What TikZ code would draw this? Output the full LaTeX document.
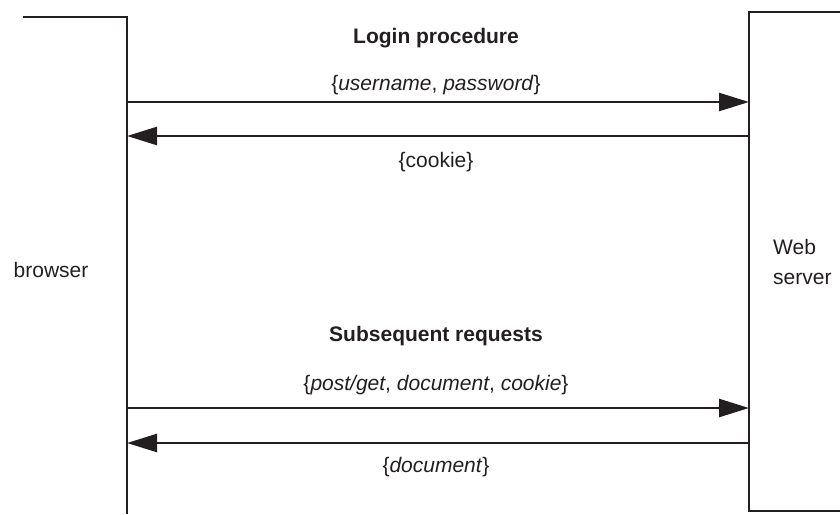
\documentclass[tikz,border=0pt]{standalone}
\usepackage{fontspec}
\setmainfont{Liberation Sans}
\usetikzlibrary{arrows.meta,positioning}

\definecolor{ink}{HTML}{231F20}

\begin{document}
\begin{tikzpicture}[x=1pt,y=-1pt,
    msg/.style={draw=ink, line width=2.5pt, -{Triangle[length=30pt,width=18pt]}},
    side/.style={draw=ink, line width=2.8pt},
    lbl/.style={font=\fontsize{21}{25}\selectfont, text=ink, inner sep=0pt}]
    \useasboundingbox (0,0) rectangle (840,514);
    % browser and server sides
    \draw[side] (23,17) -- (127,17) -- (127,514);
    \draw[side] (840,12) -- (749,12) -- (749,511) -- (840,511);
    \node[lbl] (browser) at (51,270) {browser};
    \node[lbl, font=\fontsize{21}{30}\selectfont, anchor=west, align=left] (server) at (773,262) {Web\\server};
    % end points on both sides
    \coordinate (B1) at (127,102);
    \coordinate (S1) at (749,102);
    \coordinate (B2) at (127,136);
    \coordinate (S2) at (749,136);
    \coordinate (B3) at (127,408);
    \coordinate (S3) at (749,408);
    \coordinate (B4) at (127,443);
    \coordinate (S4) at (749,443);
    % login
    \node[lbl, font=\fontsize{21}{25}\selectfont\bfseries] (login) at (436,38) {Login procedure};
    \draw[msg] (B1) -- (S1);
        \node[lbl] (cred) at (436,85) {\{\textit{username}, \textit{password}\}};
    \draw[msg] (S2) -- (B2);
        \node[lbl] (cookie) at (436,162) {\{cookie\}};
    % later requests
    \node[lbl, font=\fontsize{21}{25}\selectfont\bfseries] (later) at (436,336) {Subsequent requests};
    \draw[msg] (B3) -- (S3);
        \node[lbl] (req) at (436,385) {\{\textit{post/get}, \textit{document}, \textit{cookie}\}};
    \draw[msg] (S4) -- (B4);
        \node[lbl] (doc) at (436,467) {\{\textit{document}\}};
\end{tikzpicture}
\end{document}
